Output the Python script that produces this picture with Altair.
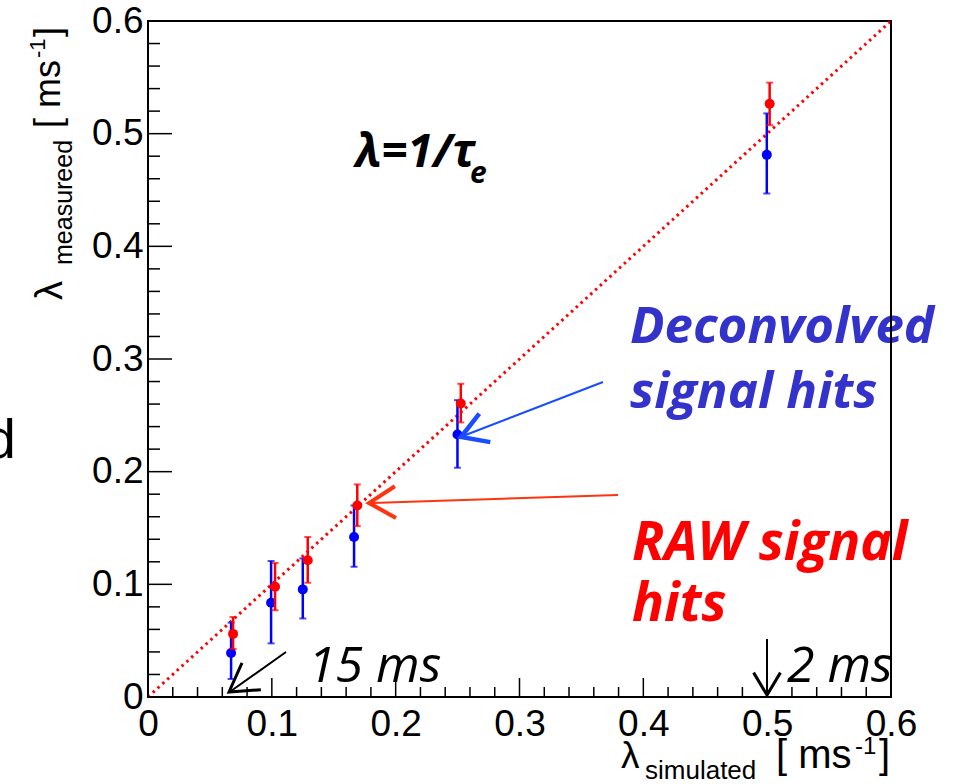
import altair as alt
import pandas as pd

# ---------------- data ----------------
red_x = [0.0687, 0.1026, 0.1290, 0.1690, 0.2526, 0.5020]
red_y = [0.0560, 0.0978, 0.1213, 0.1700, 0.2605, 0.5265]
red_lo = [0.0426, 0.0770, 0.1014, 0.1517, 0.2437, 0.5075]
red_hi = [0.0710, 0.1190, 0.1420, 0.1887, 0.2780, 0.5453]

blue_x = [0.0671, 0.0994, 0.1250, 0.1664, 0.2499, 0.4997]
blue_y = [0.0390, 0.0837, 0.0955, 0.1420, 0.2330, 0.4812]
blue_lo = [0.0160, 0.0476, 0.0697, 0.1156, 0.2035, 0.4469]
blue_hi = [0.0660, 0.1207, 0.1230, 0.1700, 0.2635, 0.5180]

diag_x = [0.0, 0.6]
diag_y = [0.0, 0.6]

major_ticks = [0.0, 0.1, 0.2, 0.3, 0.4, 0.5, 0.6]
minor_ticks = [0.02, 0.04, 0.06, 0.08, 0.12, 0.14, 0.16, 0.18, 0.22, 0.24, 0.26,
               0.28, 0.32, 0.34, 0.36, 0.38, 0.42, 0.44, 0.46, 0.48, 0.52, 0.54,
               0.56, 0.58]

# ---------------- layout ----------------
W, H = 743, 676
L, T = 148, 21
RED = "#ff0000"
BLUE = "#0000ff"

xs = alt.Scale(domain=[0, 0.6], nice=False, zero=False)
ys = alt.Scale(domain=[0, 0.6], nice=False, zero=False)
lab_expr = "datum.value == 0 ? '0' : format(datum.value, '.1f')"
common_axis = dict(values=major_ticks, labelExpr=lab_expr, labelFont="Liberation Sans",
                   labelFontSize=37, labelColor="black", ticks=False, domain=False,
                   grid=False, title=None, labelFlush=False, labelOverlap=False,
                   labelBound=False)
xaxis = alt.Axis(labelPadding=9, **common_axis)
yaxis = alt.Axis(labelPadding=5, **common_axis)


def X(f):
    return alt.X(f, type="quantitative", scale=xs, axis=xaxis)


def Y(f):
    return alt.Y(f, type="quantitative", scale=ys, axis=yaxis)


red = pd.DataFrame({"x": red_x, "y": red_y, "lo": red_lo, "hi": red_hi})
blue = pd.DataFrame({"x": blue_x, "y": blue_y, "lo": blue_lo, "hi": blue_hi})
diag = pd.DataFrame({"x": diag_x, "y": diag_y})
dummy = alt.Data(values=[{"a": 1}])

layers = []

# diagonal dotted line
layers.append(alt.Chart(diag).mark_line(color=RED, strokeWidth=3, strokeDash=[2.5, 4])
              .encode(x=X("x"), y=Y("y")))

# inner ticks
tmaj = pd.DataFrame({"v": major_ticks})
tmin = pd.DataFrame({"v": minor_ticks})
layers.append(alt.Chart(tmaj).mark_rule(color="black", strokeWidth=1.5)
              .encode(x=X("v"), y=alt.value(H), y2=alt.value(H - 19)))
layers.append(alt.Chart(tmin).mark_rule(color="black", strokeWidth=1.5)
              .encode(x=X("v"), y=alt.value(H), y2=alt.value(H - 10)))
layers.append(alt.Chart(tmaj).mark_rule(color="black", strokeWidth=1.5)
              .encode(y=Y("v"), x=alt.value(0), x2=alt.value(24)))
layers.append(alt.Chart(tmin).mark_rule(color="black", strokeWidth=1.5)
              .encode(y=Y("v"), x=alt.value(0), x2=alt.value(12)))

# data series
for df, col in ((blue, BLUE), (red, RED)):
    layers.append(alt.Chart(df).mark_rule(color=col, strokeWidth=2.5)
                  .encode(x=X("x"), y=Y("lo"), y2="hi"))
    layers.append(alt.Chart(df).mark_tick(color=col, orient="horizontal", size=7, thickness=2)
                  .encode(x=X("x"), y=Y("lo")))
    layers.append(alt.Chart(df).mark_tick(color=col, orient="horizontal", size=7, thickness=2)
                  .encode(x=X("x"), y=Y("hi")))
    layers.append(alt.Chart(df).mark_point(color=col, filled=True, opacity=1, size=100, shape="circle")
                  .encode(x=X("x"), y=Y("y")))


# ---------------- annotations (pixel positions) ----------------
def txt(text, px, py, size, color="black", font="Open Sans", style="normal",
        weight="normal", angle=0, align="left", baseline="alphabetic"):
    return alt.Chart(dummy).mark_text(
        text=text, fontSize=size, font=font, fontStyle=style, fontWeight=weight,
        color=color, angle=angle, align=align, baseline=baseline
    ).encode(x=alt.value(px - L), y=alt.value(py - T))


def seg(x1, y1, x2, y2, color, width):
    return alt.Chart(dummy).mark_rule(color=color, strokeWidth=width).encode(
        x=alt.value(x1 - L), y=alt.value(y1 - T), x2=alt.value(x2 - L), y2=alt.value(y2 - T))


HEAD = "M -0.6 1 L 0 0 L 0.6 1"


def head(px, py, ang, color, width, size):
    return alt.Chart(dummy).mark_point(shape=HEAD, filled=False, color=color, opacity=1,
                                       strokeWidth=width, size=size, angle=ang,
                                       strokeJoin="miter", strokeCap="butt").encode(
        x=alt.value(px - L), y=alt.value(py - T))


BLUE_TXT = "#3333cc"
layers += [
    txt("Deconvolved", 630, 343, 51, BLUE_TXT, style="italic", weight="bold"),
    txt("signal hits", 630, 408, 51, BLUE_TXT, style="italic", weight="bold"),
    txt("RAW signal", 632, 560, 53, RED, style="italic", weight="bold"),
    txt("hits", 632, 621, 53, RED, style="italic", weight="bold"),
    txt("λ=1/τ", 355, 167, 46, style="italic", weight="bold"),
    txt("e", 470, 183, 30, style="italic", weight="bold"),
    txt("15 ms", 308, 682, 50, style="italic"),
    txt("2 ms", 787, 682, 50, style="italic"),
    txt("d", 16, 458, 56, font="Liberation Sans", align="right"),
    # x title
    txt("λ", 621, 768, 37, font="Liberation Sans"),
    txt("simulated", 645, 779, 26, font="Liberation Sans"),
    txt("[ ms", 776, 768, 40, font="Liberation Sans"),
    txt("-1", 855, 754, 24, font="Liberation Sans"),
    txt("]", 879, 768, 40, font="Liberation Sans"),
    # y title (rotated)
    txt("λ", 62, 300, 38, font="Liberation Sans", angle=270),
    txt("measureed", 72, 265, 25, font="Liberation Sans", angle=270),
    txt("[ ms", 60, 128, 36, font="Liberation Sans", angle=270),
    txt("-1", 45, 58, 22, font="Liberation Sans", angle=270),
    txt("]", 60, 37, 36, font="Liberation Sans", angle=270),
    # arrows
    seg(603, 382, 463, 436, "#1a4dff", 2),
    head(461, 437, 249, "#1a4dff", 4.5, 2600),
    seg(618, 495, 372, 503, "#ff3311", 2),
    head(369, 503, 268, "#ff3311", 4, 2800),
    seg(286, 652, 231, 691, "black", 2),
    head(229, 692, 235, "black", 3, 3000),
    seg(767, 639, 767, 693, "black", 2),
    head(767, 695, 180, "black", 3, 2000),
    # right frame edge drawn over text
    alt.Chart(dummy).mark_rule(color="black", strokeWidth=2).encode(
        x=alt.value(W), y=alt.value(0), y2=alt.value(H)),
]

chart = alt.layer(*layers).properties(
    width=W, height=H,
    padding={"left": L, "top": T, "right": 954 - L - W, "bottom": 784 - T - H},
    autosize=alt.AutoSizeParams(type="none"),
    background="white",
).configure_view(stroke="black", strokeWidth=2)

chart.save("out.html", embed_options={"renderer": "svg", "actions": False})
